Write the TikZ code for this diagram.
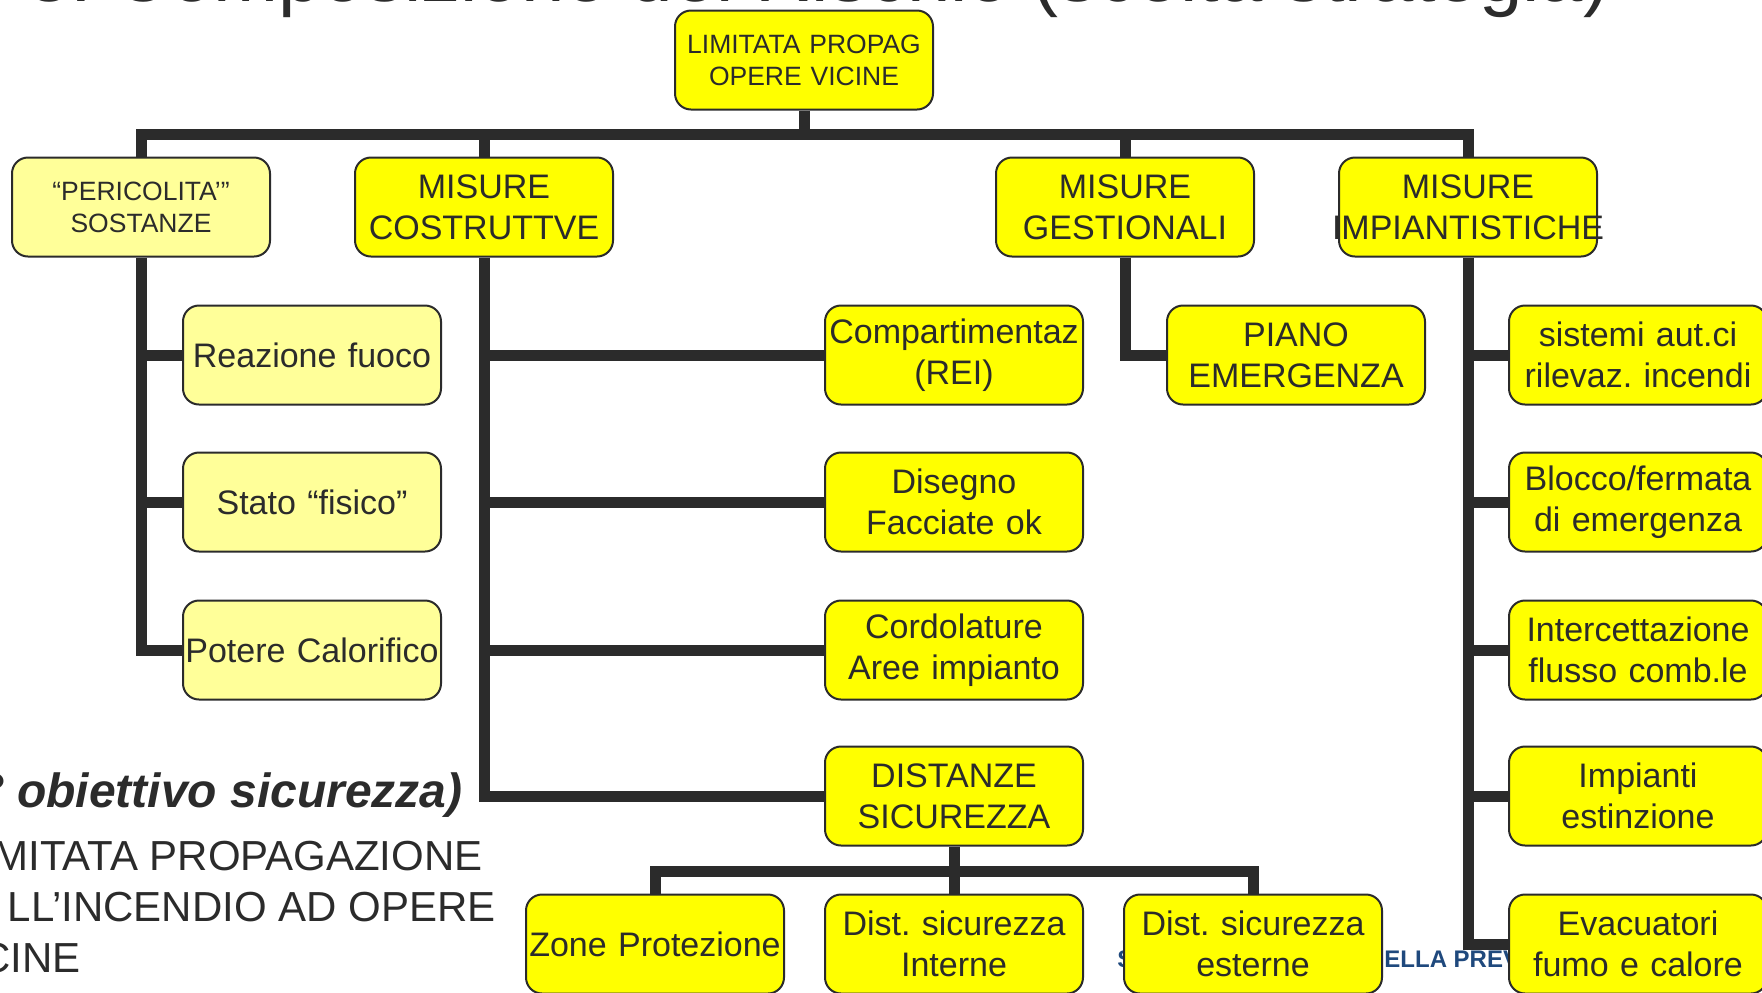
\documentclass[tikz,border=0pt]{standalone}
\usepackage{fontspec}
\setmainfont{Liberation Sans}
\frenchspacing
\definecolor{boxyel}{HTML}{FFFF00}
\definecolor{boxpale}{HTML}{FFFF99}
\definecolor{ink}{HTML}{2B2B2B}
\definecolor{footblue}{HTML}{1F497D}

\begin{document}
\begin{tikzpicture}[x=0.5pt,y=-0.5pt,
    box/.style={draw=ink,line width=1pt,rounded corners=8pt,fill=boxyel,
      text=ink,inner sep=0pt,text width=129pt,minimum height=49.5pt,
      align=center,font=\fontsize{17}{20.5}\selectfont},
    palebox/.style={box,fill=boxpale},
    smalltext/.style={font=\fontsize{13.25}{16}\selectfont},
    slidetext/.style={inner sep=0pt,text=ink},
    bus/.style={ink,line width=5.5pt}]
  \useasboundingbox (0,0) rectangle (1762,992);
  \clip (0,0) rectangle (1762,992);

  % slide text behind the chart
  \node[slidetext,anchor=base east,font=\fontsize{39}{47}\selectfont] (title)
    at (1610,1.5) {3. Composizione del Rischio (scelta strategia)};
  \node[slidetext,anchor=base east,font=\fontsize{24}{29}\selectfont\bfseries\itshape]
    (goal) at (463,807) {° obiettivo sicurezza)};
  \node[slidetext,anchor=base east,font=\fontsize{21}{26}\selectfont] (lineA)
    at (483,870) {MITATA PROPAGAZIONE};
  \node[slidetext,anchor=base east,font=\fontsize{21}{26}\selectfont] (lineB)
    at (496,921) {LL’INCENDIO AD OPERE};
  \node[slidetext,anchor=base east,font=\fontsize{21}{26}\selectfont] (lineC)
    at (81,972) {CINE};
  \node[slidetext,text=footblue,anchor=base west,font=\fontsize{12}{15}\selectfont\bfseries]
    (footA) at (1117,967) {S};
  \node[slidetext,text=footblue,anchor=base west,font=\fontsize{12}{15}\selectfont\bfseries]
    (footB) at (1384,967) {ELLA PREV};

  % top levels
  \node[box,smalltext] (root) at (804,60) {LIMITATA PROPAG\\OPERE VICINE};
  \node[palebox,smalltext] (sost) at (141,207) {“PERICOLITA’”\\SOSTANZE};
  \node[box] (cost) at (484,207) {MISURE\\COSTRUTTVE};
  \node[box] (gest) at (1125,207) {MISURE\\GESTIONALI};
  \node[box] (impi) at (1468,207) {MISURE\\\makebox[0pt]{IMPIANTISTICHE}};

  % sostanze
  \node[palebox] (reaz) at (312,355) {Reazione fuoco};
  \node[palebox] (stato) at (312,502) {Stato “fisico”};
  \node[palebox] (pot) at (312,650) {Potere Calorifico};

  % costruttive
  \node[box] (comp) at (954,355) {Compartimentaz\\(REI)};
  \node[box] (dise) at (954,502) {Disegno\\Facciate ok};
  \node[box] (cord) at (954,650) {Cordolature\\Aree impianto};
  \node[box] (dist) at (954,796) {DISTANZE\\SICUREZZA};
  \node[box] (zone) at (655,944) {Zone Protezione};
  \node[box] (inter) at (954,944) {Dist. sicurezza\\Interne};
  \node[box] (est) at (1253,944) {Dist. sicurezza\\esterne};

  % gestionali
  \node[box] (piano) at (1296,355) {PIANO\\EMERGENZA};

  % impiantistiche
  \node[box] (sist) at (1638,355) {sistemi aut.ci\\rilevaz. incendi};
  \node[box] (bloc) at (1638,502) {Blocco/fermata\\di emergenza};
  \node[box] (inte) at (1638,650) {Intercettazione\\flusso comb.le};
  \node[box] (impe) at (1638,796) {Impianti\\estinzione};
  \node[box] (evac) at (1638,944) {Evacuatori\\fumo e calore};

  % connectors
  \coordinate (jroot) at (804,134);
  \coordinate (jdist) at (954,871);
  \draw[bus] (root.south) -- (jroot);
  \draw[bus] (sost.north) |- (jroot) -| (impi.north);
  \draw[bus] (cost.north) -- (cost.north |- jroot);
  \draw[bus] (gest.north) -- (gest.north |- jroot);

  \draw[bus] (sost.south) |- (pot.west);
  \foreach \n in {reaz,stato}
    \draw[bus] (sost.south |- \n.west) -- (\n.west);

  \draw[bus] (cost.south) |- (dist.west);
  \foreach \n in {comp,dise,cord}
    \draw[bus] (cost.south |- \n.west) -- (\n.west);
  \draw[bus] (dist.south) -- (inter.north);
  \draw[bus] (zone.north) |- (jdist) -| (est.north);

  \draw[bus] (gest.south) |- (piano.west);

  \draw[bus] (impi.south) |- (evac.west);
  \foreach \n in {sist,bloc,inte,impe}
    \draw[bus] (impi.south |- \n.west) -- (\n.west);
\end{tikzpicture}
\end{document}
